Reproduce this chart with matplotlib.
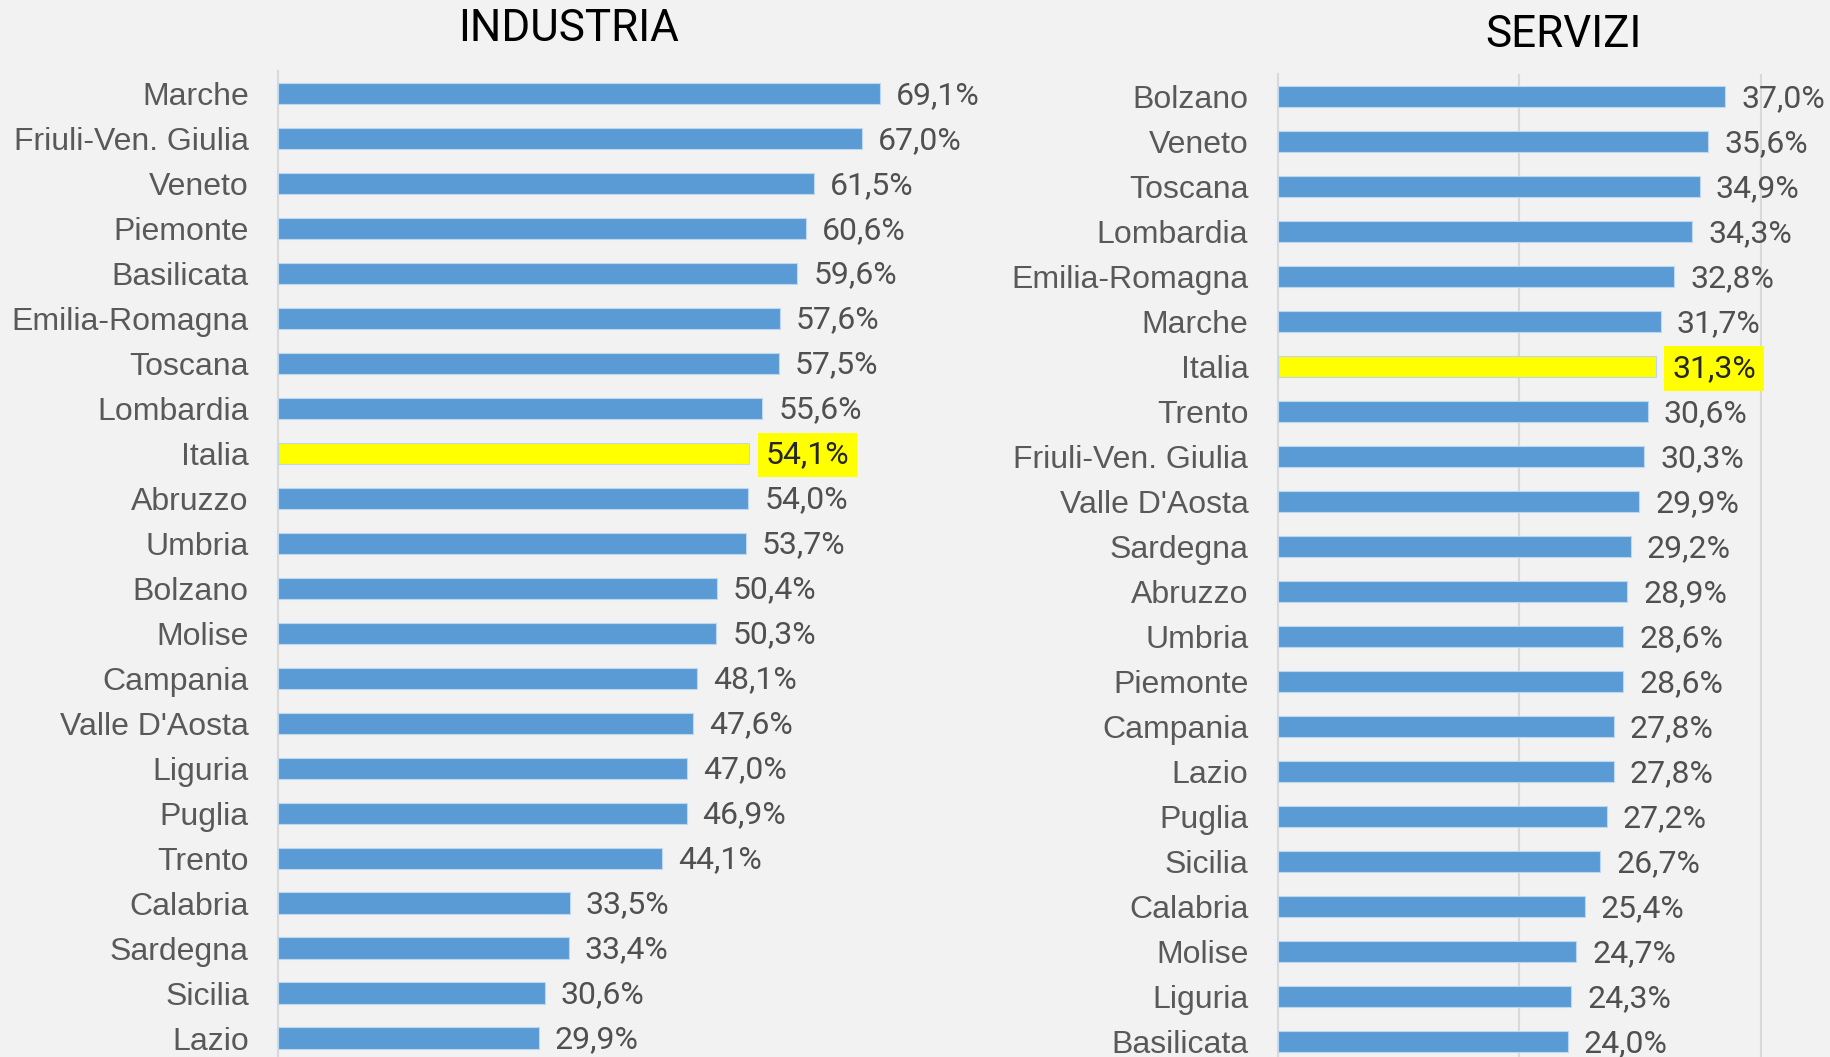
import matplotlib.pyplot as plt

# dati
reg_ind = ['Marche', 'Friuli-Ven. Giulia', 'Veneto', 'Piemonte', 'Basilicata', 'Emilia-Romagna',
           'Toscana', 'Lombardia', 'Italia', 'Abruzzo', 'Umbria', 'Bolzano', 'Molise', 'Campania',
           "Valle D'Aosta", 'Liguria', 'Puglia', 'Trento', 'Calabria', 'Sardegna', 'Sicilia', 'Lazio']
val_ind = [69.1, 67.0, 61.5, 60.6, 59.6, 57.6, 57.5, 55.6, 54.1, 54.0, 53.7, 50.4, 50.3, 48.1,
           47.6, 47.0, 46.9, 44.1, 33.5, 33.4, 30.6, 29.9]

reg_ser = ['Bolzano', 'Veneto', 'Toscana', 'Lombardia', 'Emilia-Romagna', 'Marche', 'Italia',
           'Trento', 'Friuli-Ven. Giulia', "Valle D'Aosta", 'Sardegna', 'Abruzzo', 'Umbria',
           'Piemonte', 'Campania', 'Lazio', 'Puglia', 'Sicilia', 'Calabria', 'Molise', 'Liguria',
           'Basilicata']
val_ser = [37.0, 35.6, 34.9, 34.3, 32.8, 31.7, 31.3, 30.6, 30.3, 29.9, 29.2, 28.9, 28.6, 28.6,
           27.8, 27.8, 27.2, 26.7, 25.4, 24.7, 24.3, 24.0]

plt.rcParams['font.family'] = ['Roboto', 'DejaVu Sans']
font_etich = ['Liberation Sans', 'DejaVu Sans']

bg = '#f2f2f2'
blu = '#5b9bd5'
giallo = '#ffff00'

fig = plt.figure(figsize=(18.31, 10.57), dpi=100, facecolor=bg)


def pannello(pos, regioni, valori, xmax, griglia):
    ax = fig.add_axes(pos)
    ax.set_facecolor(bg)
    y = list(range(len(regioni)))
    colori = [giallo if r == 'Italia' else blu for r in regioni]
    ax.barh(y, valori, height=0.47, color=colori, edgecolor='#bdd7ee', linewidth=0.8, zorder=3)
    ax.set_ylim(len(regioni) - 0.5, -0.5)
    ax.set_xlim(0, xmax)
    ax.set_yticks(y)
    ax.set_yticklabels(regioni, fontsize=23, color='#595959', family=font_etich)
    ax.set_xticks(griglia)
    ax.tick_params(axis='y', length=0, pad=21)
    ax.tick_params(axis='x', length=0, labelbottom=False)
    for s in ['top', 'right', 'bottom']:
        ax.spines[s].set_visible(False)
    ax.spines['left'].set_color('#d9d9d9')
    ax.spines['left'].set_linewidth(1.5)
    if griglia:
        ax.grid(axis='x', color='#d9d9d9', linewidth=1.5, zorder=0)
    for yi, v, r in zip(y, valori, regioni):
        testo = f'{v:.1f}%'.replace('.', ',')
        if r == 'Italia':
            ax.annotate(testo, (v, yi), xytext=(11.5, -1.3), textcoords='offset points',
                        va='center', ha='left', fontsize=23, color='#262626',
                        bbox=dict(boxstyle='square,pad=0.24', fc=giallo, ec='none'))
        else:
            ax.annotate(testo, (v, yi), xytext=(11.5, -1.3), textcoords='offset points',
                        va='center', ha='left', fontsize=23, color='#505050')
    return ax


pannello([278 / 1831, 1 - 1060.5 / 1057, 697 / 1831, 989.6 / 1057], reg_ind, val_ind, 80, [])
pannello([1277.5 / 1831, 1 - 1064 / 1057, 484.5 / 1831, 989.6 / 1057], reg_ser, val_ser, 40.05, [20, 40])

fig.text(569 / 1831, 1 - 29 / 1057, 'INDUSTRIA', ha='center', va='center', fontsize=31.7, color='black')
fig.text(1563 / 1831, 1 - 35 / 1057, 'SERVIZI', ha='center', va='center', fontsize=31.7, color='black')

fig.savefig('out.png', dpi=100, facecolor=bg)
